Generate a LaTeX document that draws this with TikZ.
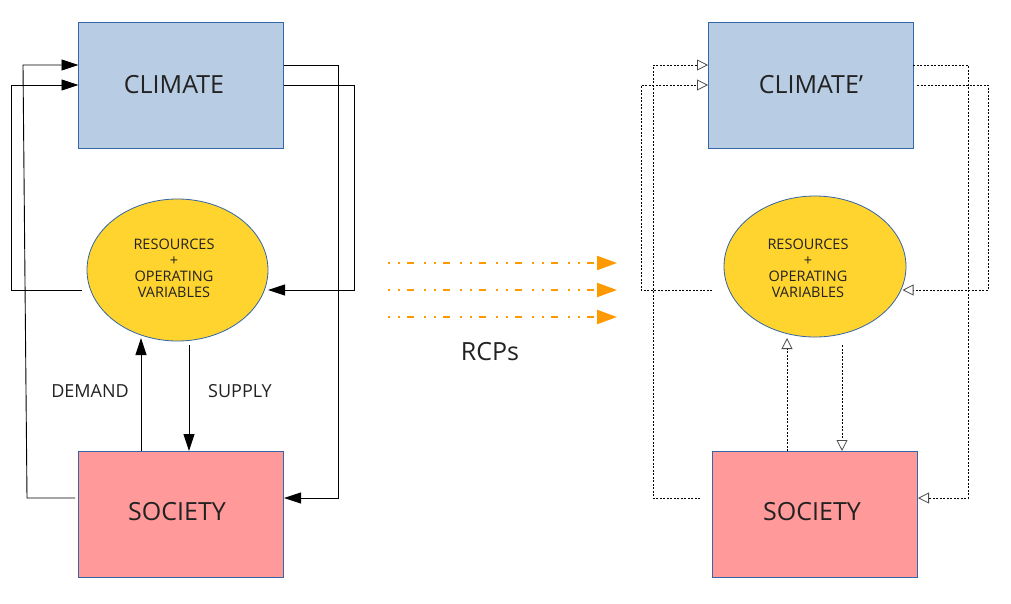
\documentclass[tikz,border=0pt]{standalone}
\usepackage{fontspec}
\setmainfont{Open Sans}
\usetikzlibrary{arrows.meta,shapes.geometric,calc}
\definecolor{climfill}{HTML}{B8CCE4}
\definecolor{socfill}{HTML}{FF999A}
\definecolor{resfill}{HTML}{FFD42F}
\definecolor{edge}{HTML}{3465A4}
\definecolor{rcp}{HTML}{FF9900}
\definecolor{ink}{HTML}{222222}
\begin{document}
\begin{tikzpicture}[x=1pt,y=-1pt,
  box/.style={draw=edge, line width=0.8pt, inner sep=0pt, outer sep=0pt, minimum width=205pt, minimum height=126pt},
  blob/.style={ellipse, draw=edge, line width=0.8pt, fill=resfill, inner sep=0pt, outer sep=0pt},
  bigtxt/.style={font=\fontsize{25}{30}\selectfont, text=ink, inner sep=0pt},
  restxt/.style={font=\fontsize{14.5}{16}\selectfont, text=ink, align=center, inner sep=0pt},
  lbl/.style={font=\fontsize{18}{22}\selectfont, text=ink, inner sep=0pt},
  link/.style={draw=black, line width=0.9pt, -{Triangle[length=17pt, width=11pt]}},
  dlink/.style={draw=black, line width=0.8pt, dash pattern=on 2pt off 1.5pt, -{Triangle[open, length=11pt, width=11pt, line width=0.8pt, color=black!70]}},
  rcparrow/.style={draw=rcp, line width=2.2pt, dash pattern=on 2pt off 8pt on 2pt off 7pt on 7pt off 10pt, -{Triangle[length=20pt, width=14pt]}}
]
\useasboundingbox[fill=white] (0,0) rectangle (1011,603);

% ---------- left diagram ----------
\node[box, fill=climfill] (clim) at (181,85) {};
\node[bigtxt] (climtxt) at (174,85) {CLIMATE};
\node[blob, minimum width=181pt, minimum height=142pt] (res) at (177.5,270) {};
\node[restxt] (restxt) at (174,268) {RESOURCES\\+\\OPERATING\\VARIABLES};
\node[box, fill=socfill] (soc) at (180.5,514) {};
\node[bigtxt] (soctxt) at (177,512) {SOCIETY};
\node[lbl] (demand) at (90,391) {DEMAND};
\node[lbl] (supply) at (240,391) {SUPPLY};

\draw[link] ($(clim.east)+(0,-20)$) -- (338,65) -- (338,498) -- ($(soc.east)+(1,-16)$);
\draw[link] (clim.east) -- (354,85) -- (354,290) -- ($(res.east)+(0,20)$);
\draw[link] ($(res.west)+(-5,20)$) -- (11,290) -- (11,85) -- (clim.west);
\draw[link] ($(soc.west)+(-3,-16)$) -- (27,498) -- (23,65) -- ($(clim.west)+(0,-20)$);
\draw[link] ($(soc.north)+(-39.5,0)$) -- ($(res.south)+(-36.5,-3)$);
\draw[link] ($(res.south)+(11.5,4)$) -- ($(soc.north)+(8.5,0)$);

% ---------- RCP arrows ----------
\coordinate (o1s) at (388,263); \coordinate (o1e) at (617,263);
\coordinate (o2s) at (388,290); \coordinate (o2e) at (617,290);
\coordinate (o3s) at (388,317); \coordinate (o3e) at (617,317);
\draw[rcparrow] (o1s) -- (o1e);
\draw[rcparrow] (o2s) -- (o2e);
\draw[rcparrow] (o3s) -- (o3e);
\node[bigtxt] (rcps) at (490,352) {RCPs};

% ---------- right diagram ----------
\node[box, fill=climfill] (clim2) at (810.5,85) {};
\node[bigtxt] (clim2txt) at (811,85) {CLIMATE'};
\node[blob, minimum width=182pt, minimum height=141pt] (res2) at (815,266.5) {};
\node[restxt] (res2txt) at (808,268) {RESOURCES\\+\\OPERATING\\VARIABLES};
\node[box, fill=socfill] (soc2) at (814.5,514) {};
\node[bigtxt] (soc2txt) at (812,512) {SOCIETY};

\draw[dlink] ($(clim2.east)+(0,-20)$) -- (968,65) -- (968,498) -- ($(soc2.east)+(1,-16)$);
\draw[dlink] ($(clim2.east)+(4,0)$) -- (988,85) -- (988,290) -- ($(res2.east)+(-3.5,23.5)$);
\draw[dlink] ($(res2.west)+(-12,23.5)$) -- (641,290) -- (641,85) -- (clim2.west);
\draw[dlink] ($(soc2.west)+(-12,-16)$) -- (653,498) -- (653,65) -- ($(clim2.west)+(0,-20)$);
\draw[dlink] ($(soc2.north)+(-27.5,0)$) -- ($(res2.south)+(-28,1)$);
\draw[dlink] ($(res2.south)+(27,8)$) -- ($(soc2.north)+(27.5,0)$);
\end{tikzpicture}
\end{document}
